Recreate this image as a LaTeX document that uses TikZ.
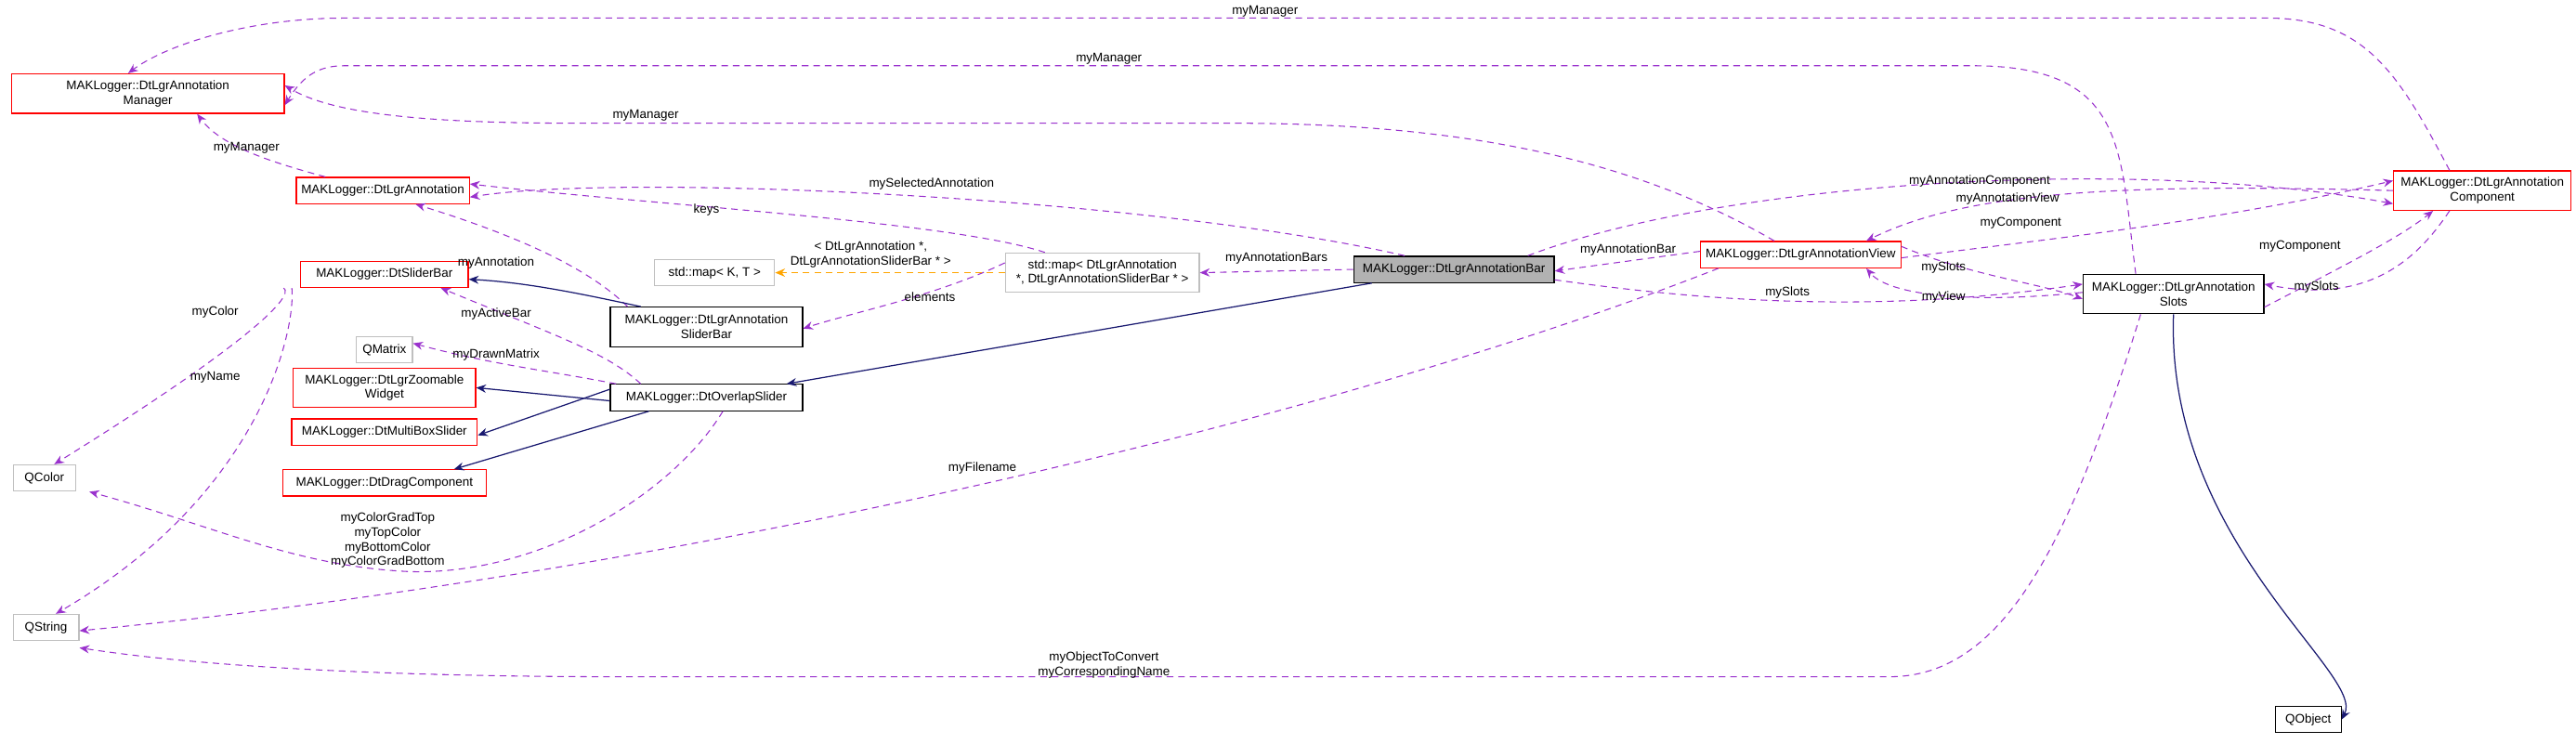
\documentclass[tikz,border=0pt]{standalone}
\usepackage{fontspec}
\setmainfont{Liberation Sans}
\usetikzlibrary{arrows.meta}
\definecolor{use}{HTML}{9A32CD}
\definecolor{inh}{HTML}{191970}
\definecolor{tmpl}{HTML}{FFA500}
\begin{document}
\begin{tikzpicture}[x=1pt,y=-1pt,
  font=\fontsize{7.6}{8.8}\selectfont,
  box/.style={draw,minimum height=16pt,inner xsep=3pt,inner ysep=1pt,align=center,line width=0.7pt},
  red/.style={box,draw=red},
  blk/.style={box,draw=black},
  gry/.style={box,draw=black!25},
  sel/.style={box,draw=black,fill=black!30},
  two/.style={minimum height=24pt},
  lbl/.style={inner sep=0.5pt,align=center},
  u/.style={draw=use,dashed,dash pattern=on 4pt off 3pt,line width=0.6pt,-{Stealth[length=6pt,width=5pt]}},
  i/.style={draw=inh,line width=0.7pt,-{Stealth[length=6pt,width=5pt]}},
  t/.style={draw=tmpl,dashed,dash pattern=on 4pt off 3pt,line width=0.6pt,-{Stealth[length=6pt,width=5pt]}}]
\useasboundingbox (0,0) rectangle (1568,452.4);
% nodes
\node[red,two,minimum width=166pt] (mgr) at (90,57) {MAKLogger::DtLgrAnnotation\\Manager};
\node[red,minimum width=101pt] (ann) at (233,116) {MAKLogger::DtLgrAnnotation};
\node[gry,minimum width=73pt] (mkt) at (435,166) {std::map< K, T >};
\node[gry,two,minimum width=118pt] (map) at (671,166) {std::map< DtLgrAnnotation\\ *, DtLgrAnnotationSliderBar * >};
\node[red,minimum width=102pt] (sbar) at (234,167) {MAKLogger::DtSliderBar};
\node[gry,minimum width=34pt] (qmat) at (234,213) {QMatrix};
\node[blk,two,minimum width=117pt] (asb) at (430,199) {MAKLogger::DtLgrAnnotation\\SliderBar};
\node[red,two,minimum width=111pt] (zoom) at (234,236) {MAKLogger::DtLgrZoomable\\Widget};
\node[blk,minimum width=117pt] (ovl) at (430,242) {MAKLogger::DtOverlapSlider};
\node[red,minimum width=113pt] (mbs) at (234,263) {MAKLogger::DtMultiBoxSlider};
\node[red,minimum width=124pt] (drag) at (234,294) {MAKLogger::DtDragComponent};
\node[gry,minimum width=38pt] (qcol) at (27,291) {QColor};
\node[gry,minimum width=40pt] (qstr) at (28,382) {QString};
\node[sel,minimum width=122pt] (bar) at (885,164) {MAKLogger::DtLgrAnnotationBar};
\node[red,minimum width=122pt] (view) at (1096,155) {MAKLogger::DtLgrAnnotationView};
\node[blk,two,minimum width=110pt] (slots) at (1323,179) {MAKLogger::DtLgrAnnotation\\Slots};
\node[red,two,minimum width=108pt] (comp) at (1511,116) {MAKLogger::DtLgrAnnotation\\Component};
\node[blk,minimum width=40pt] (qobj) at (1405,438) {QObject};
% usage edges
\draw[u] ([xshift=-20pt]comp.north) .. controls (1460,45) and (1440,11) .. (1380,11) -- (210,11) .. controls (150,11) and (100,28) .. ([xshift=-12pt]mgr.north);
\node[lbl] (l1) at (770,7) {myManager};
\draw[u] ([xshift=-23pt]slots.north) .. controls (1290,90) and (1295,40) .. (1200,40) -- (210,40) .. controls (195,40) and (185,45) .. ([yshift=-7pt]mgr.east);
\node[lbl] (l2) at (675,36) {myManager};
\draw[u] ([xshift=-16pt]view.north) .. controls (1000,100) and (900,75) .. (750,75) -- (350,75) .. controls (250,75) and (200,68) .. ([yshift=5pt]mgr.east);
\node[lbl] (l3) at (393,70) {myManager};
\draw[u] ([xshift=-35pt]ann.north) .. controls (170,100) and (135,90) .. ([xshift=30pt]mgr.south);
\node[lbl] (l4) at (150,90) {myManager};
\draw[u] ([xshift=-30pt]bar.north) .. controls (700,120) and (380,105) .. ([yshift=-4pt]ann.east);
\node[lbl] (l5) at (567,112) {mySelectedAnnotation};
\draw[u] ([xshift=-35pt]map.north) .. controls (580,135) and (400,125) .. ([yshift=4pt]ann.east);
\node[lbl] (l6) at (430,128) {keys};
\draw[u] ([xshift=-48pt]asb.north) .. controls (360,165) and (320,145) .. ([xshift=20pt]ann.south);
\node[lbl] (l7) at (302,160) {myAnnotation};
\draw[u] ([yshift=6pt]map.west) .. controls (570,180) and (520,190) .. ([yshift=-1pt]asb.east);
\node[lbl] (l8) at (566,181) {elements};
\draw[t] (map.west) -- (mkt.east);
\node[lbl] (l9) at (530,155) {< DtLgrAnnotation *,\\DtLgrAnnotationSliderBar * >};
\draw[u] (bar.west) -- (map.east);
\node[lbl] (l10) at (777,157) {myAnnotationBars};
\draw[u] ([yshift=2pt]view.west) -- ([yshift=-1pt]bar.east);
\node[lbl] (l11) at (991,152) {myAnnotationBar};
\draw[u] ([yshift=2pt]bar.south east) .. controls (1050,185) and (1150,190) .. ([yshift=6pt]slots.west);
\node[lbl] (l12) at (1088,178) {mySlots};
\draw[u] ([yshift=5pt]view.east) .. controls (1200,168) and (1240,172) .. ([yshift=-3pt]slots.west);
\node[lbl] (l13) at (1183,163) {mySlots};
\draw[u] ([yshift=1pt]slots.west) .. controls (1200,185) and (1150,180) .. ([xshift=40pt]view.south);
\node[lbl] (l14) at (1183,181) {myView};
\draw[u] ([yshift=-8pt]slots.east) .. controls (1430,160) and (1460,145) .. ([xshift=-30pt]comp.south);
\node[lbl] (l15) at (1400,150) {myComponent};
\draw[u] ([xshift=-20pt]comp.south) .. controls (1470,160) and (1440,185) .. ([yshift=6pt]slots.east);
\node[lbl] (l16) at (1410,175) {mySlots};
\draw[u] ([xshift=45pt]bar.north) .. controls (1050,110) and (1300,95) .. ([yshift=-8pt]comp.west);
\node[lbl] (l17) at (1205,110) {myAnnotationComponent};
\draw[u] (comp.west) .. controls (1300,112) and (1200,115) .. ([xshift=40pt]view.north);
\node[lbl] (l18) at (1222,121) {myAnnotationView};
\draw[u] ([yshift=-2pt]view.east) .. controls (1250,145) and (1350,135) .. ([yshift=6pt]comp.west);
\node[lbl] (l19) at (1230,136) {myComponent};
\draw[u] ([xshift=-50pt]view.south) .. controls (800,260) and (400,350) .. ([yshift=-2pt]qstr.east);
\node[lbl] (l20) at (598,285) {myFilename};
\draw[u] ([xshift=-20pt]slots.south) .. controls (1260,330) and (1220,412) .. (1150,412) -- (380,412) .. controls (300,412) and (150,410) .. ([yshift=-4pt]qstr.south east);
\node[lbl] (l21) at (672,405) {myObjectToConvert\\myCorrespondingName};
\draw[u] ([xshift=10pt]ovl.south) .. controls (410,300) and (330,350) .. (250,348) .. controls (180,345) and (130,320) .. ([xshift=8pt]qcol.south east);
\node[lbl] (l22) at (236,329) {myColorGradTop\\myTopColor\\myBottomColor\\myColorGradBottom};
\draw[u] ([xshift=-10pt]sbar.south west) .. controls (180,180) and (150,210) .. ([xshift=6pt]qcol.north);
\node[lbl] (l23) at (131,190) {myColor};
\draw[u] ([xshift=-5pt]sbar.south west) .. controls (180,200) and (160,300) .. ([xshift=6pt]qstr.north);
\node[lbl] (l24) at (131,230) {myName};
\draw[u] ([xshift=-40pt]ovl.north) .. controls (370,215) and (340,205) .. ([xshift=-17pt]sbar.south east);
\node[lbl] (l25) at (302,191) {myActiveBar};
\draw[u] ([xshift=-55pt]ovl.north) .. controls (330,225) and (300,222) .. ([yshift=4pt]qmat.east);
\node[lbl] (l26) at (302,216) {myDrawnMatrix};
% inheritance
\draw[i] ([xshift=-40pt]asb.north) .. controls (350,178) and (320,172) .. ([yshift=-3pt]sbar.east);
\draw[i] ([yshift=-2pt]ovl.west) -- (zoom.east);
\draw[i] ([yshift=5pt]ovl.west) -- ([yshift=-2pt]mbs.east);
\draw[i] ([xshift=-35pt]ovl.south) -- ([xshift=-20pt]drag.north east);
\draw[i] ([xshift=-50pt]bar.south) -- ([xshift=-10pt]ovl.north east);
\draw[i] (slots.south) .. controls (1318,330) and (1440,410) .. (qobj.east);
\end{tikzpicture}
\end{document}
